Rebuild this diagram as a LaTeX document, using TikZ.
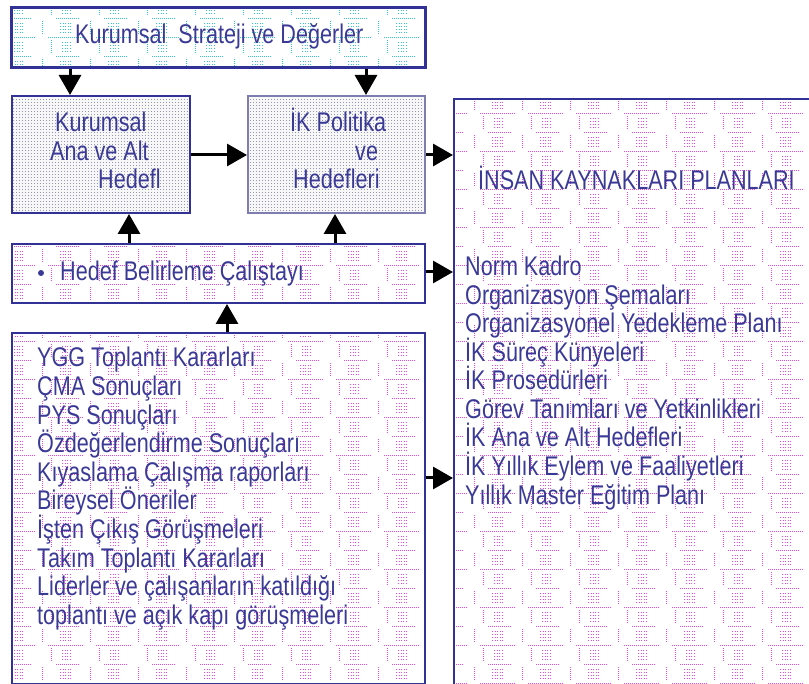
\documentclass[tikz,border=0pt]{standalone}
\usepackage{fontspec}
\setmainfont[FakeStretch=0.8]{Liberation Sans}
\usetikzlibrary{arrows.meta,patterns.meta}

\definecolor{ink}{RGB}{58,58,150}
\definecolor{frame}{RGB}{50,50,150}
\definecolor{paleframe}{RGB}{125,125,175}
\definecolor{pinkdot}{RGB}{236,70,236}
\definecolor{cyandot}{RGB}{50,200,210}
\definecolor{stipple}{RGB}{150,150,185}

% sparse dotted tile used as background texture
\pgfdeclarepattern{
  name=dotgrid,
  type=uncolored,
  bottom left={\pgfpoint{-1pt}{-1pt}},
  top right={\pgfpoint{47pt}{37pt}},
  tile size={\pgfpoint{48pt}{38pt}},
  code={
    \foreach \i in {0,2,...,34}{%
      \pgfpathrectangle{\pgfpoint{\i pt}{0pt}}{\pgfpoint{0.9pt}{0.9pt}}\pgfusepath{fill}}%
    \foreach \i in {8,10,...,30}{%
      \pgfpathrectangle{\pgfpoint{\i pt}{19pt}}{\pgfpoint{0.9pt}{0.9pt}}\pgfusepath{fill}}%
    \foreach \i in {12,14.5,...,24}{\foreach \j in {5,8,...,16}{%
      \pgfpathrectangle{\pgfpoint{\i pt}{\j pt}}{\pgfpoint{0.9pt}{0.9pt}}\pgfusepath{fill}}}%
    \foreach \i in {14,16.5,...,22}{\foreach \j in {24,27,...,33}{%
      \pgfpathrectangle{\pgfpoint{\i pt}{\j pt}}{\pgfpoint{0.9pt}{0.9pt}}\pgfusepath{fill}}}%
    \foreach \j in {4,6,...,16}{%
      \pgfpathrectangle{\pgfpoint{42pt}{\j pt}}{\pgfpoint{0.9pt}{0.9pt}}\pgfusepath{fill}}%
    \foreach \j in {23,25,...,35}{%
      \pgfpathrectangle{\pgfpoint{3pt}{\j pt}}{\pgfpoint{0.9pt}{0.9pt}}\pgfusepath{fill}}%
  }
}
% dense stipple tile
\pgfdeclarepattern{
  name=stippled,
  type=uncolored,
  bottom left={\pgfpoint{0pt}{0pt}},
  top right={\pgfpoint{2.5pt}{2.5pt}},
  tile size={\pgfpoint{2.5pt}{2.5pt}},
  code={
    \pgfpathrectangle{\pgfpoint{0pt}{0pt}}{\pgfpoint{0.9pt}{0.9pt}}\pgfusepath{fill}
  }
}

\tikzset{
  box/.style={anchor=north west, inner sep=0pt, draw=frame, line width=2pt},
  pinkbox/.style={box, pattern={dotgrid}, pattern color=pinkdot},
  cyanbox/.style={box, line width=2.7pt, pattern={dotgrid}, pattern color=cyandot},
  greybox/.style={box, preaction={fill=gray!6}, pattern={stippled}, pattern color=stipple},
  label/.style={anchor=base west, inner sep=0pt, text=ink,
    font=\fontsize{27}{28.6}\selectfont},
  arr/.style={line width=3pt, -{Triangle[length=20pt,width=22pt]}},
}

\begin{document}
\begin{tikzpicture}[x=1pt, y=-1pt]
\useasboundingbox (0,0) rectangle (809,684);
\fill[white] (0,0) rectangle (809,684);

% boxes
\node[cyanbox, minimum width=414pt, minimum height=60pt] (top) at (10,6) {};
\node[greybox, minimum width=178pt, minimum height=117pt] (kag) at (11,95) {};
\node[greybox, draw=paleframe, minimum width=177pt, minimum height=117pt] (ikp) at (247,95) {};
\node[pinkbox, minimum width=413pt, minimum height=59pt] (hedef) at (11,243) {};
\node[pinkbox, minimum width=413pt, minimum height=351pt] (inputs) at (11,332) {};
\node[pinkbox, minimum width=420pt, minimum height=640pt] (plans) at (453,98) {};

% texts
\node[label] (toptxt) at (75,44) {Kurumsal\ \ Strateji ve Değerler};
\node[label] (kag1) at (55,132) {Kurumsal};
\node[label] (kag2) at (50,161) {Ana ve Alt};
\node[label] (kag3) at (98,189) {Hedefl};
\node[label] (ikp1) at (290,132) {İK Politika};
\node[label] (ikp2) at (355,161) {ve};
\node[label] (ikp3) at (293,189) {Hedefleri};
\node[circle, fill=ink, inner sep=0pt, minimum size=6pt] (bullet) at (41,273) {};
\node[label] (hedeftxt) at (60,281) {Hedef Belirleme Çalıştayı};
\node[label] (planstitle) at (478,190) {İNSAN KAYNAKLARI PLANLARI};

\foreach \t [count=\i] in {YGG Toplantı Kararları, ÇMA Sonuçları, PYS Sonuçları,
    Özdeğerlendirme Sonuçları, Kıyaslama Çalışma raporları, Bireysel Öneriler,
    İşten Çıkış Görüşmeleri, Takım Toplantı Kararları,
    Liderler ve çalışanların katıldığı, toplantı ve açık kapı görüşmeleri}
  \node[label] (in\i) at (37,{367+28.6*(\i-1)}) {\t};

\foreach \t [count=\i] in {Norm Kadro, Organizasyon Şemaları,
    Organizasyonel Yedekleme Planı, İK Süreç Künyeleri, İK Prosedürleri,
    Görev Tanımları ve Yetkinlikleri, İK Ana ve Alt Hedefleri,
    İK Yıllık Eylem ve Faaliyetleri, Yıllık Master Eğitim Planı}
  \node[label] (pl\i) at (465,{276+28.5*(\i-1)}) {\t};

% connector positions
\coordinate (xa) at (70,0);
\coordinate (xb) at (366,0);
\coordinate (xc) at (129,0);
\coordinate (xd) at (335,0);
\coordinate (xe) at (227,0);
\coordinate (ya) at (0,155);
\coordinate (yb) at (0,272);
\coordinate (yc) at (0,478);

% connectors
\draw[arr] (top.south -| xa) -- (kag.north -| xa);
\draw[arr] (top.south -| xb) -- (ikp.north -| xb);
\draw[arr] (kag.east |- ya) -- (ikp.west |- ya);
\draw[arr] (ikp.east |- ya) -- (plans.west |- ya);
\draw[arr] (hedef.north -| xc) -- (kag.south -| xc);
\draw[arr] (hedef.north -| xd) -- (ikp.south -| xd);
\draw[arr] (hedef.east |- yb) -- (plans.west |- yb);
\draw[arr] (inputs.north -| xe) -- (hedef.south -| xe);
\draw[arr] (inputs.east |- yc) -- (plans.west |- yc);
\end{tikzpicture}
\end{document}
